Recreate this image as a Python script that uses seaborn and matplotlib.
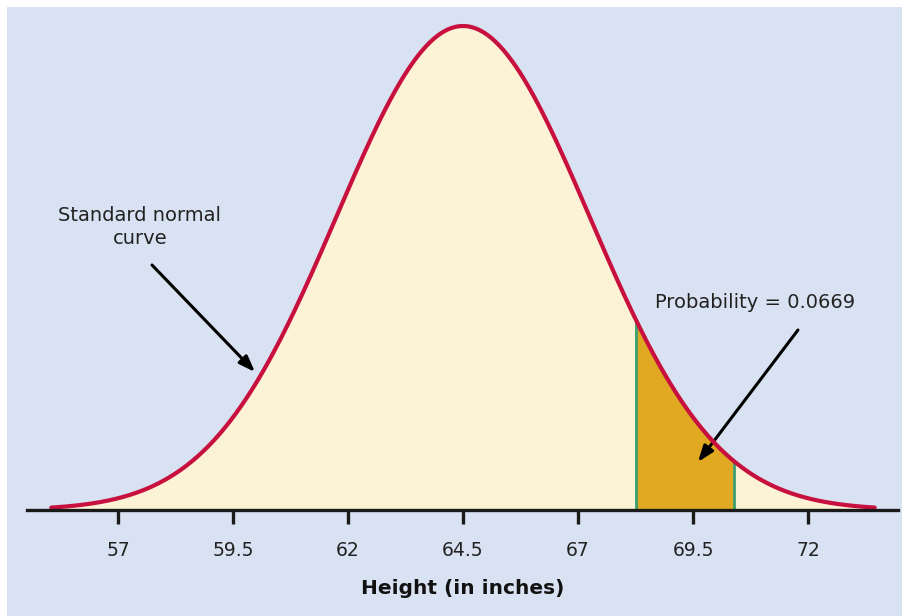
import numpy as np
import pandas as pd
import matplotlib
matplotlib.use("Agg")
import matplotlib.pyplot as plt
import seaborn as sns
from matplotlib.patches import Rectangle

# ---- data ----
mean = 64.5
sd = 2.75          # spread of the curve as drawn
tick_values = [57, 59.5, 62, 64.5, 67, 69.5, 72]
tick_labels = ["57", "59.5", "62", "64.5", "67", "69.5", "72"]
shade_low = 68.25
shade_high = 70.4
curve_low = 55.55
curve_high = 73.45
xlabel = "Height (in inches)"
note_curve = "Standard normal\ncurve"
note_prob = "Probability = 0.0669"

def pdf(x):
    return np.exp(-0.5 * ((x - mean) / sd) ** 2) / (sd * np.sqrt(2 * np.pi))

xs = np.linspace(curve_low, curve_high, 600)
df = pd.DataFrame({"x": xs, "y": pdf(xs)})

sns.set_theme(style="white")
plt.rcParams['font.family'] = ['DejaVu Sans']

W, H = 903, 616
fig = plt.figure(figsize=(W / 100, H / 100), dpi=100)
fig.patch.set_facecolor("white")
bg = "#d9e2f2"
fig.add_artist(Rectangle((7 / W, 0), 1 - 7 / W, 1 - 7 / H, transform=fig.transFigure,
                         facecolor=bg, edgecolor="none", zorder=0))

left_px, right_px, bottom_px, top_px = 27, 898, 510, 7
peak_px = 26
ax = fig.add_axes([left_px / W, 1 - bottom_px / H, (right_px - left_px) / W,
                   (bottom_px - top_px) / H])
ax.set_facecolor("none")

px_per_unit = 46.0
xmin = mean - (463 - left_px) / px_per_unit
xmax = mean + (right_px - 463) / px_per_unit
peak = pdf(mean)
ymax = peak * (bottom_px - top_px) / (bottom_px - peak_px)
ax.set_xlim(xmin, xmax)
ax.set_ylim(0, ymax)

# fills
ax.fill_between(df["x"], 0, df["y"], color="#fcf2d6", lw=0, zorder=1)
m = (df["x"] >= shade_low) & (df["x"] <= shade_high)
ax.fill_between(df["x"][m], 0, df["y"][m], color="#e0a921", lw=0, zorder=2)
for xv in (shade_low, shade_high):
    ax.vlines(xv, 0, pdf(xv), color="#3a9e6e", lw=2.0, zorder=3)

sns.lineplot(data=df, x="x", y="y", ax=ax, color="#c8103f", lw=3.0, zorder=4)

# axes styling
for s in ["top", "right", "left"]:
    ax.spines[s].set_visible(False)
ax.spines["bottom"].set_color("#1a1a1a")
ax.spines["bottom"].set_linewidth(2.4)
ax.spines["bottom"].set_zorder(5)
ax.set_yticks([])
ax.set_xticks(tick_values)
ax.set_xticklabels(tick_labels, fontsize=13.5, color="#222222")
ax.tick_params(axis="x", direction="out", length=10, width=2.4, color="#1a1a1a",
               pad=12, bottom=True)
ax.set_xlabel(xlabel, fontsize=14.5, fontweight="bold", color="#111111", labelpad=14)
ax.set_ylabel("")

def to_data(px, py):
    return (mean + (px - 463) / px_per_unit, (bottom_px - py) / (bottom_px - peak_px) * peak)

arrow_kw = dict(arrowstyle="-|>,head_length=0.6,head_width=0.22", color="black", lw=2.2,
                mutation_scale=16, shrinkA=0, shrinkB=0)
tx, ty = to_data(140, 227)
ax.text(tx, ty, note_curve, ha="center", va="center", fontsize=14, color="#222222",
        linespacing=1.3)
ax.annotate("", xy=to_data(255, 372), xytext=to_data(152, 265), arrowprops=arrow_kw)

px_, py_ = to_data(755, 303)
ax.text(px_, py_, note_prob, ha="center", va="center", fontsize=14, color="#222222")
ax.annotate("", xy=to_data(698, 462), xytext=to_data(798, 330), arrowprops=arrow_kw)

fig.savefig("out.png", dpi=100, facecolor=fig.get_facecolor())
